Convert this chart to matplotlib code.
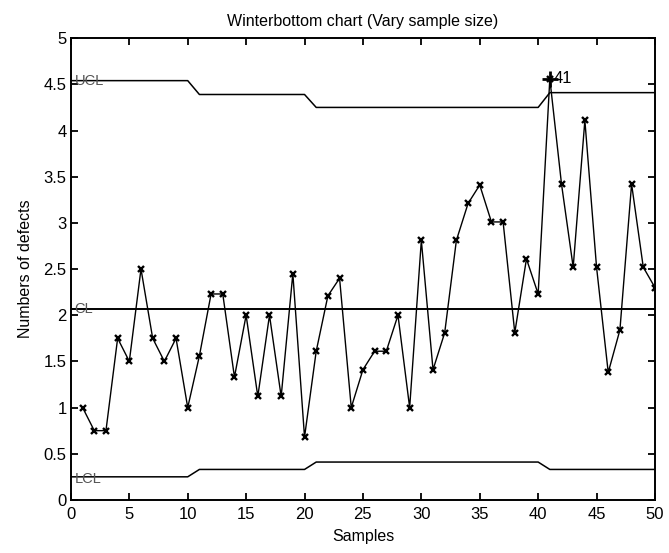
import numpy as np
import matplotlib
matplotlib.use("Agg")
import matplotlib.pyplot as plt
from matplotlib.ticker import FuncFormatter, MultipleLocator

plt.rcParams['font.family'] = ['Liberation Sans', 'DejaVu Sans']

# Dataset
samples = np.arange(1, 51)
defects = np.array([1.0, 0.75, 0.75, 1.75, 1.5, 2.5, 1.75, 1.5, 1.75, 1.0,
                    1.56, 2.23, 2.23, 1.33, 2.0, 1.12, 2.0, 1.12, 2.45, 0.68,
                    1.61, 2.21, 2.4, 1.0, 1.41, 1.61, 1.61, 2.0, 1.0, 2.81,
                    1.41, 1.81, 2.81, 3.21, 3.41, 3.01, 3.01, 1.81, 2.61, 2.23,
                    4.56, 3.42, 2.52, 4.11, 2.52, 1.38, 1.84, 3.42, 2.52, 2.3])

# limits per group of samples (1-10, 11-20, 21-40, 41-50)
group_len = [10, 10, 20, 10]
ucl_vals = [4.54, 4.39, 4.25, 4.41]
lcl_vals = [0.25, 0.33, 0.41, 0.33]
cl = 2.07
out_sample = 41

ucl = np.repeat(ucl_vals, group_len)
lcl = np.repeat(lcl_vals, group_len)

fig = plt.figure(figsize=(6.69, 5.53), dpi=100)
ax = fig.add_axes([0.106, 0.096, 0.873, 0.835])

xs = np.r_[0, samples]
ax.plot(xs, np.r_[ucl[0], ucl], color='black', linewidth=1.1)
ax.plot(xs, np.r_[lcl[0], lcl], color='black', linewidth=1.1)
ax.plot([0, 50], [cl, cl], color='black', linewidth=1.4)

ax.plot(samples, defects, color='black', linewidth=1.0, marker='x',
        markersize=5, markeredgewidth=1.7)
i = out_sample - 1
ax.plot(samples[i], defects[i], '+', color='black', markersize=11, markeredgewidth=2)
ax.text(samples[i] + 0.35, defects[i], str(out_sample), fontsize=12, va='center', ha='left')

ax.text(0.3, ucl[0], 'UCL', fontsize=10.5, va='center', ha='left', color='#555555')
ax.text(0.3, cl, 'CL', fontsize=10.5, va='center', ha='left', color='#555555')
ax.text(0.3, lcl[0] - 0.02, 'LCL', fontsize=10.5, va='center', ha='left', color='#555555')

ax.set_xlim(0, 50)
ax.set_ylim(0, 5)
ax.xaxis.set_major_locator(MultipleLocator(5))
ax.yaxis.set_major_locator(MultipleLocator(0.5))
ax.yaxis.set_major_formatter(FuncFormatter(lambda v, p: '%g' % v))
ax.tick_params(direction='in', top=True, right=True, length=5, width=1.3,
               labelsize=12, pad=3)
ax.tick_params(axis='x', pad=5)
for s in ax.spines.values():
    s.set_linewidth(1.4)

ax.set_title('Winterbottom chart (Vary sample size)', fontsize=11.5, pad=9)
ax.set_xlabel('Samples', fontsize=11.5, labelpad=5)
ax.set_ylabel('Numbers of defects', fontsize=11.5, labelpad=8)

fig.savefig('out.png', dpi=100)
